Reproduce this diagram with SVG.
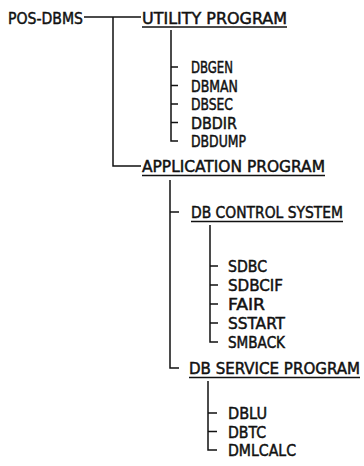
<svg xmlns="http://www.w3.org/2000/svg" width="364" height="466" viewBox="0 0 364 466">
<style>
text{font-family:"DejaVu Sans Condensed","DejaVu Sans",sans-serif;font-size:15.8px;fill:#111;stroke:#111;stroke-width:0.45;}
.c{fill:none;stroke:#111;stroke-width:1.5;}
.u{stroke:#111;stroke-width:1.6;}
</style>
<rect width="364" height="466" fill="#fff"/>
<g id="connectors" class="c">
<path d="M84 17H141M113 17V166H141"/>
<path d="M171 30V141H178M171 67H178M171 85.5H178M171 104H178M171 122.5H178"/>
<path d="M170 180V368H179M170 212H179"/>
<path d="M210 225V342H218M210 266H218M210 285H218M210 304H218M210 323H218"/>
<path d="M208 381V450H217M208 413H217M208 431.5H217"/>
</g>
<g id="pos-dbms"><text x="8" y="23.5" textLength="75" lengthAdjust="spacingAndGlyphs">POS-DBMS</text></g>
<g id="utility-program"><text x="142" y="23.5" textLength="145" lengthAdjust="spacingAndGlyphs">UTILITY PROGRAM</text><line class="u" x1="142" y1="27" x2="287" y2="27"/></g>
<g id="dbgen"><text x="191" y="73" textLength="42" lengthAdjust="spacingAndGlyphs">DBGEN</text></g>
<g id="dbman"><text x="191" y="91.5" textLength="47" lengthAdjust="spacingAndGlyphs">DBMAN</text></g>
<g id="dbsec"><text x="191" y="110" textLength="42" lengthAdjust="spacingAndGlyphs">DBSEC</text></g>
<g id="dbdir"><text x="191" y="128.5" textLength="46" lengthAdjust="spacingAndGlyphs">DBDIR</text></g>
<g id="dbdump"><text x="191" y="147" textLength="55" lengthAdjust="spacingAndGlyphs">DBDUMP</text></g>
<g id="application-program"><text x="142" y="172" textLength="183" lengthAdjust="spacingAndGlyphs">APPLICATION PROGRAM</text><line class="u" x1="142" y1="175.5" x2="325" y2="175.5"/></g>
<g id="db-control-system"><text x="191" y="218" textLength="152" lengthAdjust="spacingAndGlyphs">DB CONTROL SYSTEM</text><line class="u" x1="191" y1="221.5" x2="343" y2="221.5"/></g>
<g id="sdbc"><text x="228" y="272" textLength="39" lengthAdjust="spacingAndGlyphs">SDBC</text></g>
<g id="sdbcif"><text x="228" y="291" textLength="55" lengthAdjust="spacingAndGlyphs">SDBCIF</text></g>
<g id="fair"><text x="228" y="310" textLength="37" lengthAdjust="spacingAndGlyphs">FAIR</text></g>
<g id="sstart"><text x="228" y="329" textLength="57" lengthAdjust="spacingAndGlyphs">SSTART</text></g>
<g id="smback"><text x="228" y="348" textLength="57" lengthAdjust="spacingAndGlyphs">SMBACK</text></g>
<g id="db-service-program"><text x="189" y="374" textLength="171" lengthAdjust="spacingAndGlyphs">DB SERVICE PROGRAM</text><line class="u" x1="189" y1="377.5" x2="360" y2="377.5"/></g>
<g id="dblu"><text x="228" y="419" textLength="39" lengthAdjust="spacingAndGlyphs">DBLU</text></g>
<g id="dbtc"><text x="228" y="437.5" textLength="38" lengthAdjust="spacingAndGlyphs">DBTC</text></g>
<g id="dmlcalc"><text x="228" y="456" textLength="68" lengthAdjust="spacingAndGlyphs">DMLCALC</text></g>
</svg>
